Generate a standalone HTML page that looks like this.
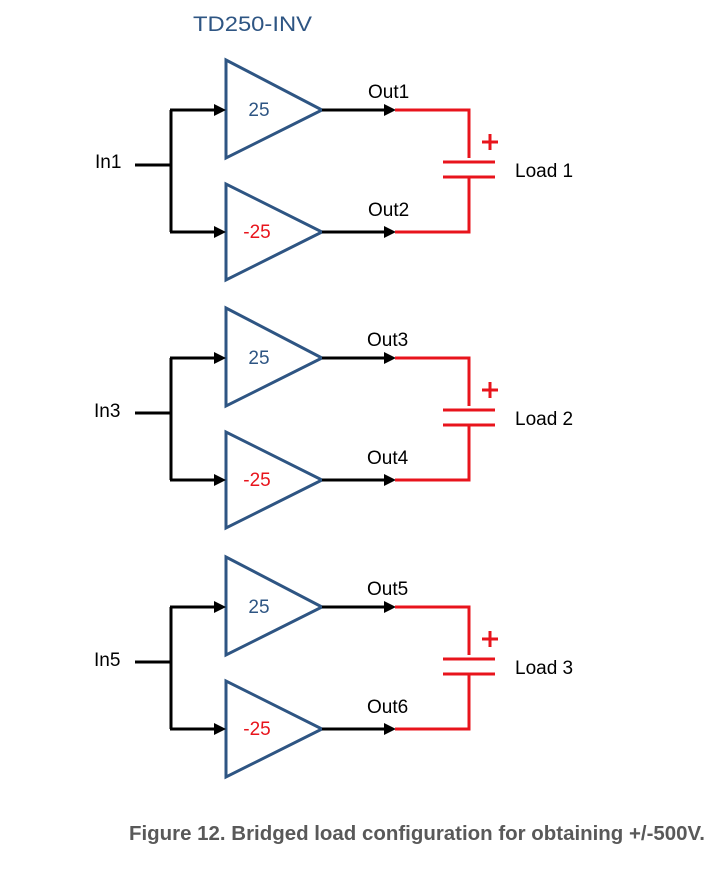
<!DOCTYPE html>
<html><head><meta charset="utf-8"><style>html,body{margin:0;padding:0;background:#fff}svg{display:block}</style></head>
<body>
<svg width="710" height="872" viewBox="0 0 710 872" xmlns="http://www.w3.org/2000/svg" font-family="Liberation Sans, sans-serif">
<defs>
<g id="blk">
  <polygon points="226,60 226,158 322,110" fill="none" stroke="#2e5583" stroke-width="3"/>
  <polygon points="226,184 226,280 322,232" fill="none" stroke="#2e5583" stroke-width="3"/>
  <path d="M135,165 H171 M171,110 V232 M170,110 H216 M170,232 H216 M322,110 H386 M322,232 H386" stroke="#000" stroke-width="3" fill="none"/>
  <polygon points="214,104 226,110 214,116" fill="#000"/>
  <polygon points="214,226 226,232 214,238" fill="#000"/>
  <polygon points="384,104 396,110 384,116" fill="#000"/>
  <polygon points="384,226 396,232 384,238" fill="#000"/>
  <path d="M395,110 H469 V158 M469,177 V232 H395 M443,162 H495 M443,177 H495" stroke="#e8141c" stroke-width="3" fill="none"/>
  <path d="M482,142 H498 M490,134 V150" stroke="#e8141c" stroke-width="3"/>
  <text x="259" y="116" font-size="19" fill="#2e5583" text-anchor="middle">25</text>
  <text x="257" y="238" font-size="19" fill="#e8141c" text-anchor="middle">-25</text>
</g>
</defs>
<text x="193" y="31" font-size="21" fill="#2e5583" textLength="119" lengthAdjust="spacingAndGlyphs">TD250-INV</text>
<use href="#blk"/>
<use href="#blk" y="248"/>
<use href="#blk" y="497"/>
<g font-size="19" fill="#000">
<text x="95" y="168">In1</text><text x="94" y="417">In3</text><text x="94" y="666">In5</text>
<text x="368" y="98">Out1</text><text x="368" y="216">Out2</text>
<text x="367" y="346">Out3</text><text x="367" y="464">Out4</text>
<text x="367" y="595">Out5</text><text x="367" y="713">Out6</text>
<text x="515" y="177">Load 1</text><text x="515" y="425">Load 2</text><text x="515" y="674">Load 3</text>
</g>
<text x="129" y="840" font-size="20" font-weight="bold" fill="#595959" textLength="576" lengthAdjust="spacingAndGlyphs">Figure 12. Bridged load configuration for obtaining +/-500V.</text>
</svg>
</body></html>
